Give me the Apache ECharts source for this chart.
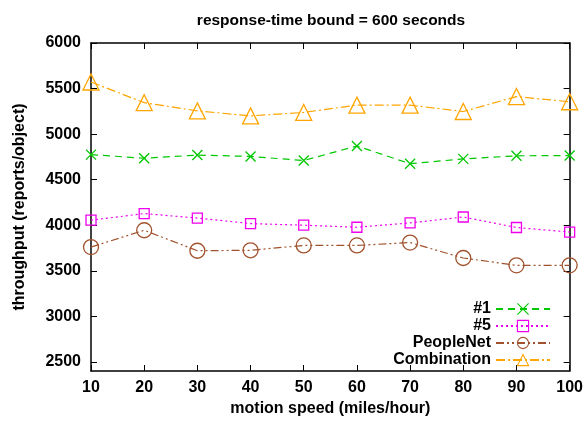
<!DOCTYPE html>
<html><head><meta charset="utf-8">
<script src="https://cdn.jsdelivr.net/npm/echarts@6/dist/echarts.min.js"></script>
<style>html,body{margin:0;padding:0;background:#fff}#c{width:586px;height:422px}</style>
</head><body><div id="c"></div>
<script>
const speeds = [10, 20, 30, 40, 50, 60, 70, 80, 90, 100];
const s1 = [4775, 4735, 4770, 4755, 4710, 4870, 4675, 4728, 4762, 4765];
const s5 = [4055, 4128, 4078, 4018, 4000, 3978, 4025, 4090, 3975, 3925];
const peopleNet = [3760, 3945, 3720, 3725, 3778, 3778, 3810, 3640, 3560, 3560];
const combination = [5572, 5345, 5255, 5200, 5238, 5318, 5318, 5248, 5412, 5355];
const yTicks = [2500, 3000, 3500, 4000, 4500, 5000, 5500, 6000];
const font = 'Liberation Sans, Arial, sans-serif';

const xPath = 'path://M0,0L10,10M10,0L0,10';
function ser(name, data, color, dash, symbol, size) {
  return {
    name, type: 'line', data: speeds.map((s, i) => [s, data[i]]),
    xAxisIndex: 0, yAxisIndex: 0,
    symbol, symbolSize: size, showSymbol: true,
    lineStyle: { color, width: 1.2, type: dash },
    itemStyle: { color: 'rgba(0,0,0,0)', borderColor: color, borderWidth: 1.3 },
    emphasis: { disabled: true }, animation: false
  };
}
const chart = echarts.init(document.getElementById('c'), null, { renderer: 'canvas' });
const axisCommon = {
  axisLine: { show: true, lineStyle: { color: '#000', width: 1.5 } },
  splitLine: { show: false }
};
const txt = { fontFamily: font, fontSize: 16, fontWeight: 'bold', color: '#000' };
chart.setOption({
  animation: false,
  title: {
    text: 'response-time bound = 600 seconds', left: 326, top: 8, textAlign: 'center',
    textStyle: Object.assign({}, txt, { fontSize: 15.5 })
  },
  grid: { left: 91, right: 16, top: 43, bottom: 49 },
  legend: {
    orient: 'vertical', right: 30, top: 296, align: 'right',
    itemWidth: 54, itemHeight: 14, itemGap: 1,
    itemStyle: { borderWidth: 1.1 },
    textStyle: txt,
    data: ['#1', '#5', 'PeopleNet', 'Combination']
  },
  xAxis: [
    Object.assign({}, axisCommon, {
      type: 'value', min: 10, max: 100, interval: 10, position: 'bottom',
      name: 'motion speed (miles/hour)', nameLocation: 'middle', nameGap: 30,
      nameTextStyle: txt,
      axisTick: { inside: true, length: 6, lineStyle: { color: '#000' } },
      axisLabel: Object.assign({ margin: 9 }, txt)
    }),
    Object.assign({}, axisCommon, {
      type: 'value', min: 10, max: 100, interval: 10, position: 'top',
      axisTick: { inside: true, length: 6, lineStyle: { color: '#000' } },
      axisLabel: { show: false }
    })
  ],
  yAxis: [
    Object.assign({}, axisCommon, {
      type: 'value', min: 2400, max: 6000, position: 'left',
      name: 'throughput (reports/object)', nameLocation: 'middle', nameGap: 63,
      nameTextStyle: txt,
      axisTick: { inside: true, length: 6, customValues: yTicks, lineStyle: { color: '#000' } },
      axisLabel: Object.assign({ margin: 10, customValues: yTicks, formatter: v => String(v) }, txt)
    }),
    Object.assign({}, axisCommon, {
      type: 'value', min: 2400, max: 6000, position: 'right',
      axisTick: { inside: true, length: 6, customValues: yTicks, lineStyle: { color: '#000' } },
      axisLabel: { show: false, customValues: yTicks }
    })
  ],
  series: [
    ser('#1', s1, '#00c800', [7, 5], xPath, 10),
    ser('#5', s5, '#ee00ee', [2, 3], 'rect', 10),
    ser('PeopleNet', peopleNet, '#a0522d', [8, 3, 2, 3, 2, 3], 'circle', 15),
    ser('Combination', combination, '#ffa500', [9, 3, 2, 3], 'triangle', 16)
  ]
});
</script></body></html>
